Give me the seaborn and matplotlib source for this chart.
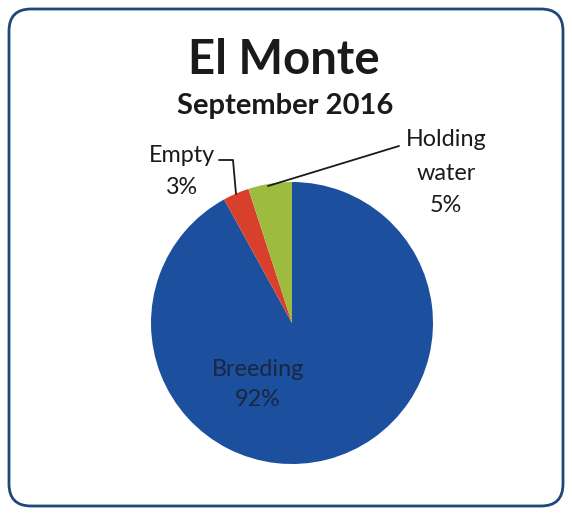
import matplotlib
matplotlib.use("Agg")
import matplotlib.pyplot as plt
from matplotlib.patches import FancyBboxPatch
import seaborn as sns

# Survey results for El Monte, September 2016
categories = ["Breeding", "Empty", "Holding water"]
shares = [92, 3, 5]
slice_colors = ["#1c4f9e", "#d8402c", "#9dbb3e"]

sns.set_theme(style="white")
plt.rcParams["font.family"] = ["Lato", "DejaVu Sans"]

W, H = 572, 516
fig = plt.figure(figsize=(W / 100, H / 100), dpi=100)
fig.patch.set_facecolor("white")

# Pixel-space layer for frame and titles
bg = fig.add_axes([0, 0, 1, 1])
bg.set_xlim(0, W)
bg.set_ylim(H, 0)
bg.axis("off")
bg.set_zorder(0)

frame = FancyBboxPatch((9, 9), W - 18, H - 19,
                       boxstyle="round,pad=0,rounding_size=22",
                       facecolor="white", edgecolor="#1f4878", linewidth=2.0)
bg.add_patch(frame)

bg.text(284, 60, "El Monte", ha="center", va="center",
        fontsize=34, fontweight="bold", color="#1a1a1a")
bg.text(285, 106, "September 2016", ha="center", va="center",
        fontsize=21, fontweight="bold", color="#1a1a1a")

# Pie
cx, cy, r = 292, 323, 141
pax = fig.add_axes([(cx - r) / W, (H - cy - r) / H, 2 * r / W, 2 * r / H])
pax.pie(shares, colors=slice_colors, startangle=90, counterclock=False,
        wedgeprops=dict(linewidth=0))
pax.set_xlim(-1, 1)
pax.set_ylim(-1, 1)
pax.set_aspect("equal")
pax.axis("off")
pax.set_zorder(1)

# Labels and leader lines above the pie
top = fig.add_axes([0, 0, 1, 1])
top.set_xlim(0, W)
top.set_ylim(H, 0)
top.axis("off")
top.set_zorder(2)
top.patch.set_alpha(0)

label_font = 16.8
ink = "#1a1a1a"

# Empty
top.text(182, 156, categories[1], ha="center", va="center",
         fontsize=label_font, color=ink)
top.text(182, 187, f"{shares[1]}%", ha="center", va="center",
         fontsize=label_font, color=ink)
top.plot([219, 233, 236], [160, 160, 194], color=ink, lw=1.3)

# Holding water
top.text(446, 140, "Holding", ha="center", va="center",
         fontsize=label_font, color=ink)
top.text(446, 173, "water", ha="center", va="center",
         fontsize=label_font, color=ink)
top.text(446, 206, f"{shares[2]}%", ha="center", va="center",
         fontsize=label_font, color=ink)
top.plot([399, 268], [146, 186], color=ink, lw=1.3)

# Breeding (inside its slice)
top.text(258, 370, categories[0], ha="center", va="center",
         fontsize=label_font, color="#1a2740")
top.text(258, 400, f"{shares[0]}%", ha="center", va="center",
         fontsize=label_font, color="#1a2740")

fig.savefig("out.png", dpi=100, facecolor="white")
